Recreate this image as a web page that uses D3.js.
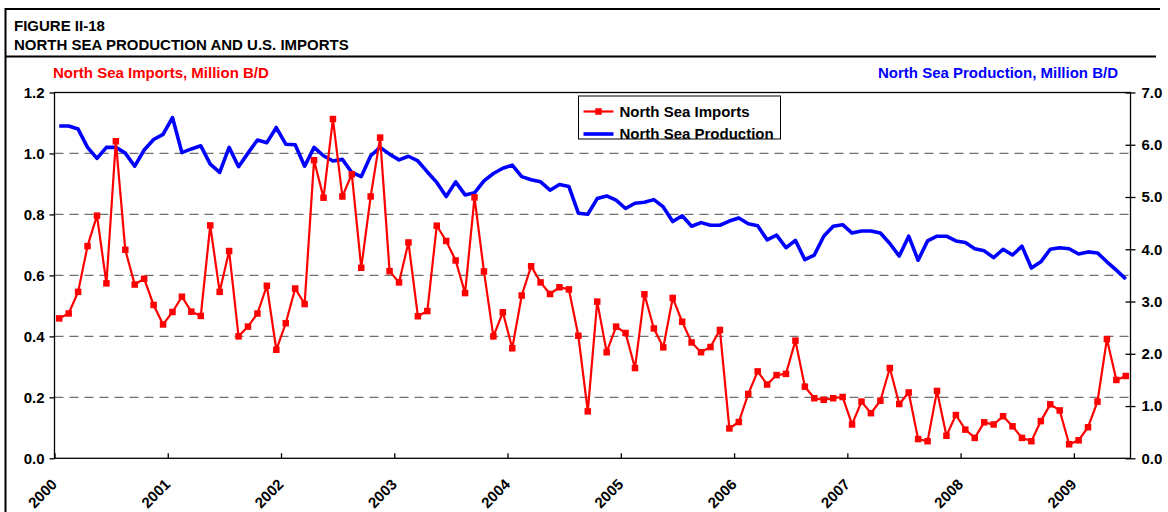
<html>
<head>
<style type="text/css">
  body { margin: 0; background: #fff; }
  text { font-family: "Liberation Sans", Arial, sans-serif; font-weight: bold; }
  .grid line { stroke: #707070; stroke-width: 1.3; stroke-dasharray: 9,6; }
</style>
</head>
<body>
<svg id="viewport" width="1168" height="512"></svg>
<script src="https://cdn.jsdelivr.net/npm/d3@7/dist/d3.min.js"></script>
<script>
  // DATA (monthly, Jan 2000 - Jun 2009)
  var years = ["2000", "2001", "2002", "2003", "2004", "2005", "2006", "2007", "2008", "2009"];
  var leftTicks = [0, 0.2, 0.4, 0.6, 0.8, 1.0, 1.2];
  var rightTicks = [0, 1, 2, 3, 4, 5, 6, 7];

  var imports = [
    0.459, 0.475, 0.546, 0.696, 0.796, 0.574, 1.040, 0.684, 0.570, 0.589, 0.503, 0.439,
    0.480, 0.530, 0.481, 0.467, 0.764, 0.546, 0.680, 0.400, 0.432, 0.475, 0.566, 0.356,
    0.443, 0.557, 0.506, 0.978, 0.855, 1.113, 0.859, 0.932, 0.625, 0.859, 1.052, 0.614,
    0.577, 0.708, 0.466, 0.483, 0.763, 0.713, 0.649, 0.542, 0.856, 0.613, 0.400, 0.479,
    0.361, 0.534, 0.630, 0.577, 0.539, 0.561, 0.554, 0.402, 0.154, 0.514, 0.348, 0.432,
    0.411, 0.296, 0.538, 0.426, 0.364, 0.526, 0.448, 0.380, 0.348, 0.365, 0.421, 0.098,
    0.119, 0.211, 0.285, 0.242, 0.273, 0.277, 0.386, 0.235, 0.197, 0.192, 0.197, 0.201,
    0.111, 0.186, 0.148, 0.189, 0.296, 0.178, 0.216, 0.063, 0.056, 0.221, 0.074, 0.142,
    0.094, 0.067, 0.118, 0.111, 0.138, 0.105, 0.067, 0.056, 0.122, 0.177, 0.157, 0.046,
    0.059, 0.102, 0.186, 0.391, 0.257, 0.270
  ];

  var production = [
    6.36, 6.36, 6.30, 5.95, 5.74, 5.95, 5.95, 5.84, 5.59, 5.90, 6.10, 6.20,
    6.52, 5.85, 5.92, 5.98, 5.63, 5.47, 5.95, 5.58, 5.84, 6.09, 6.04, 6.33,
    6.01, 6.00, 5.59, 5.95, 5.79, 5.69, 5.72, 5.47, 5.39, 5.79, 5.95, 5.82,
    5.71, 5.78, 5.69, 5.48, 5.28, 5.01, 5.29, 5.04, 5.08, 5.31, 5.45, 5.55,
    5.61, 5.39, 5.33, 5.29, 5.13, 5.24, 5.20, 4.69, 4.67, 4.97, 5.02, 4.94,
    4.78, 4.88, 4.90, 4.95, 4.81, 4.53, 4.64, 4.44, 4.51, 4.46, 4.46, 4.54,
    4.60, 4.49, 4.45, 4.18, 4.27, 4.03, 4.17, 3.80, 3.89, 4.25, 4.44, 4.47,
    4.31, 4.35, 4.35, 4.31, 4.11, 3.87, 4.25, 3.79, 4.16, 4.25, 4.25, 4.16,
    4.13, 4.01, 3.97, 3.84, 4.00, 3.89, 4.06, 3.64, 3.76, 4.00, 4.03, 4.01,
    3.91, 3.95, 3.93, 3.76, 3.60, 3.43
  ];

  var svg = d3.select("svg");

  // plot area
  var pLeft = 54.5, pRight = 1130.5, pTop = 92.5, pBottom = 458.3;

  var x = d3.scaleLinear().domain([0, imports.length]).range([pLeft, pRight]);
  var yL = d3.scaleLinear().domain([0, 1.2]).range([pBottom, pTop]);
  var yR = d3.scaleLinear().domain([0, 7]).range([pBottom, pTop]);

  // frame and title
  svg.append("line").attr("x1", 5).attr("x2", 1160).attr("y1", 9).attr("y2", 9)
    .attr("stroke", "#000").attr("stroke-width", 2);
  svg.append("line").attr("x1", 5.5).attr("x2", 5.5).attr("y1", 8).attr("y2", 512)
    .attr("stroke", "#000").attr("stroke-width", 2);
  svg.append("line").attr("x1", 5).attr("x2", 1156).attr("y1", 56.5).attr("y2", 56.5)
    .attr("stroke", "#000").attr("stroke-width", 2);

  svg.append("text").attr("x", 14).attr("y", 31).attr("font-size", 15).text("FIGURE II-18");
  svg.append("text").attr("x", 14).attr("y", 50).attr("font-size", 15).text("NORTH SEA PRODUCTION AND U.S. IMPORTS");

  svg.append("text").attr("x", 53).attr("y", 77.5).attr("font-size", 15)
    .attr("fill", "#ff0000").text("North Sea Imports, Million B/D");
  svg.append("text").attr("x", 1118).attr("y", 77.5).attr("font-size", 15)
    .attr("text-anchor", "end").attr("fill", "#0000ff").text("North Sea Production, Million B/D");

  // dashed gridlines from the left axis
  svg.append("g").attr("class", "grid")
    .selectAll("line")
    .data(leftTicks.filter(function(d) { return d > 0 && d < 1.2; }))
    .enter().append("line")
    .attr("x1", pLeft).attr("x2", pRight)
    .attr("y1", function(d) { return yL(d); })
    .attr("y2", function(d) { return yL(d); });

  // plot border
  svg.append("rect").attr("x", pLeft).attr("y", pTop)
    .attr("width", pRight - pLeft).attr("height", pBottom - pTop)
    .attr("fill", "none").attr("stroke", "#000").attr("stroke-width", 1.3);

  // axes
  var axisL = svg.append("g").attr("transform", "translate(" + pLeft + ",0)")
    .call(d3.axisLeft(yL).tickValues(leftTicks).tickSize(5).tickPadding(6).tickFormat(d3.format(".1f")));
  var axisR = svg.append("g").attr("transform", "translate(" + pRight + ",0)")
    .call(d3.axisRight(yR).tickValues(rightTicks).tickSize(5).tickPadding(6).tickFormat(d3.format(".1f")));
  var axisB = svg.append("g").attr("transform", "translate(0," + pBottom + ")")
    .call(d3.axisBottom(x).tickValues(years.map(function(d, i) { return i * 12; }))
      .tickSize(-5).tickFormat(function(d, i) { return years[i]; }));

  [axisL, axisR, axisB].forEach(function(a) {
    a.select(".domain").remove();
    a.selectAll("line").attr("stroke", "#000").attr("stroke-width", 1.3);
    a.selectAll("text").attr("font-size", 15).attr("fill", "#000")
      .style("font-family", "'Liberation Sans', Arial, sans-serif").style("font-weight", "bold");
  });
  // right ticks cross the axis
  axisR.selectAll(".tick line").attr("x1", -5).attr("x2", 5);
  axisR.selectAll(".tick text").attr("x", 11);
  axisL.selectAll(".tick text").attr("x", -10);

  axisB.selectAll(".tick text")
    .attr("y", 0).attr("dy", 0)
    .attr("text-anchor", "end")
    .attr("transform", "translate(3,27) rotate(-45)");

  // series
  var lineImports = d3.line()
    .x(function(d, i) { return x(i + 0.5); })
    .y(function(d) { return yL(d); });
  var lineProd = d3.line()
    .x(function(d, i) { return x(i + 0.5); })
    .y(function(d) { return yR(d); });

  svg.append("path").datum(production)
    .attr("d", lineProd)
    .attr("fill", "none").attr("stroke", "#0000ff").attr("stroke-width", 3.6)
    .attr("stroke-linejoin", "round");

  svg.append("path").datum(imports)
    .attr("d", lineImports)
    .attr("fill", "none").attr("stroke", "#ff0000").attr("stroke-width", 2.2);

  var ms = 6.5;
  svg.append("g").selectAll("rect")
    .data(imports)
    .enter().append("rect")
    .attr("x", function(d, i) { return x(i + 0.5) - ms / 2; })
    .attr("y", function(d) { return yL(d) - ms / 2; })
    .attr("width", ms).attr("height", ms)
    .attr("fill", "#ff0000");

  // legend
  var legend = svg.append("g").attr("transform", "translate(578.5,96)");
  legend.append("rect").attr("width", 202).attr("height", 43)
    .attr("fill", "#fff").attr("stroke", "#000").attr("stroke-width", 1);
  legend.append("line").attr("x1", 5).attr("x2", 35).attr("y1", 15.5).attr("y2", 15.5)
    .attr("stroke", "#ff0000").attr("stroke-width", 2.2);
  legend.append("rect").attr("x", 20 - ms / 2).attr("y", 15.5 - ms / 2)
    .attr("width", ms).attr("height", ms).attr("fill", "#ff0000");
  legend.append("line").attr("x1", 5).attr("x2", 35).attr("y1", 38).attr("y2", 38)
    .attr("stroke", "#0000ff").attr("stroke-width", 3.6);
  legend.append("text").attr("x", 41).attr("y", 20.5).attr("font-size", 15).text("North Sea Imports");
  legend.append("text").attr("x", 41).attr("y", 43).attr("font-size", 15).text("North Sea Production");
</script>
</body>
</html>
